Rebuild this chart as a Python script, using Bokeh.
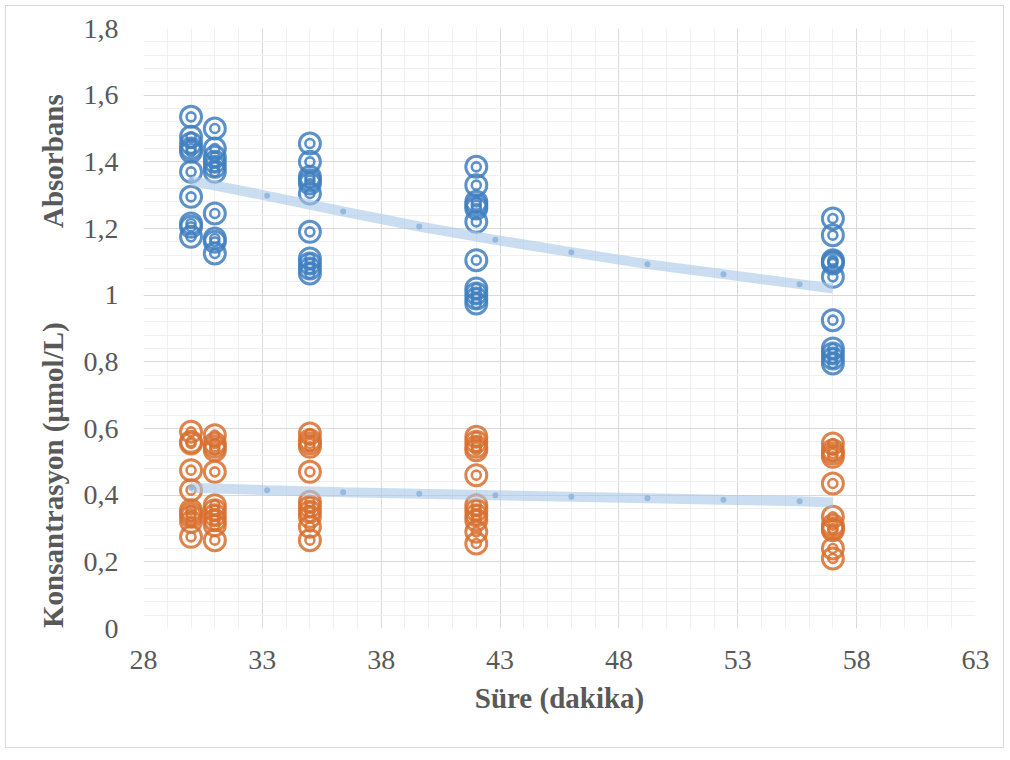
from bokeh.plotting import figure
from bokeh.models import Range1d, FixedTicker
from bokeh.embed import file_html
from bokeh.resources import INLINE

# ---------------- data ----------------
times = [30, 31, 35, 42, 57]

abs_30 = [1.535, 1.475, 1.455, 1.44, 1.43, 1.37, 1.295, 1.215, 1.205, 1.175]
abs_31 = [1.50, 1.44, 1.415, 1.40, 1.385, 1.37, 1.245, 1.17, 1.16, 1.125]
abs_35 = [1.455, 1.40, 1.355, 1.345, 1.335, 1.305, 1.19, 1.11, 1.095, 1.08, 1.065]
abs_42 = [1.385, 1.33, 1.28, 1.27, 1.26, 1.22, 1.105, 1.02, 1.005, 0.99, 0.975]
abs_57 = [1.23, 1.18, 1.105, 1.10, 1.095, 1.055, 0.925, 0.84, 0.825, 0.81, 0.795]

kon_30 = [0.59, 0.56, 0.555, 0.475, 0.415, 0.355, 0.345, 0.335, 0.32, 0.275]
kon_31 = [0.58, 0.555, 0.545, 0.535, 0.47, 0.37, 0.355, 0.34, 0.325, 0.31, 0.265]
kon_35 = [0.585, 0.565, 0.555, 0.545, 0.47, 0.38, 0.365, 0.35, 0.335, 0.305, 0.265]
kon_42 = [0.575, 0.56, 0.545, 0.535, 0.46, 0.37, 0.355, 0.34, 0.325, 0.29, 0.255]
kon_57 = [0.555, 0.535, 0.525, 0.515, 0.435, 0.335, 0.31, 0.30, 0.295, 0.24, 0.21]

trend_x = [30, 33.2, 36.4, 39.6, 42.8, 46.0, 49.2, 52.4, 55.6, 57]
abs_trend = [1.343, 1.298, 1.251, 1.206, 1.166, 1.129, 1.093, 1.063, 1.033, 1.020]
kon_trend = [0.422, 0.415, 0.409, 0.404, 0.400, 0.395, 0.391, 0.386, 0.382, 0.378]
trend_dot_x = trend_x[:-1]
abs_trend_dots = abs_trend[:-1]
kon_trend_dots = kon_trend[:-1]

x_ticks = [28, 33, 38, 43, 48, 53, 58, 63]
x_minor = list(range(28, 64))
y_ticks = [0.0, 0.2, 0.4, 0.6, 0.8, 1.0, 1.2, 1.4, 1.6, 1.8]
y_tick_labels = ["0", "0,2", "0,4", "0,6", "0,8", "1", "1,2", "1,4", "1,6", "1,8"]
y_minor = [round(i * 0.04, 2) for i in range(46)]

x_title = "Süre (dakika)"
y_title_low = "Konsantrasyon  (μmol/L)"
y_title_high = "Absorbans"

abs_groups = [abs_30, abs_31, abs_35, abs_42, abs_57]
kon_groups = [kon_30, kon_31, kon_35, kon_42, kon_57]

# ---------------- styling ----------------
BLUE = "#3f7fc0"
ORANGE = "#d8702f"
TREND = "#a9c8e8"
TREND_DOT = "#8db3dc"
TXT = "#595959"
FONT = "Liberation Serif"
NB = "\u00a0"

p = figure(width=999, height=743, output_backend="svg", toolbar_location=None,
           x_range=Range1d(28, 63), y_range=Range1d(0, 1.8),
           min_border_left=137, min_border_right=30, min_border_top=22,
           min_border_bottom=121)
p.styles = {"border": "1px solid #d9d9d9", "margin": "5px"}
p.outline_line_color = None
p.background_fill_color = "white"
p.border_fill_color = "white"

p.xaxis.ticker = FixedTicker(ticks=x_ticks, minor_ticks=x_minor)
p.yaxis.ticker = FixedTicker(ticks=y_ticks, minor_ticks=y_minor)
p.yaxis.major_label_overrides = {t: l for t, l in zip(y_ticks, y_tick_labels)}

for ax in (p.xaxis, p.yaxis):
    ax.axis_line_color = None
    ax.major_tick_line_color = None
    ax.minor_tick_line_color = None
    ax.major_label_text_font = FONT
    ax.major_label_text_font_size = "28px"
    ax.major_label_text_color = TXT
    ax.axis_label_text_font = FONT
    ax.axis_label_text_font_style = "bold"
    ax.axis_label_text_font_size = "29px"
    ax.axis_label_text_color = TXT
p.xaxis.major_label_standoff = 16
p.yaxis.major_label_standoff = 19

p.xaxis.axis_label = x_title
p.xaxis.axis_label_standoff = 10

# both y titles in one axis label, separated by non-breaking spaces
p.yaxis.axis_label = y_title_low + NB * 13 + y_title_high + NB * 8
p.yaxis.axis_label_standoff = 12

for g in (p.xgrid, p.ygrid):
    g.grid_line_color = "#d9d9d9"
    g.grid_line_width = 1
    g.minor_grid_line_color = "#f0f0f0"
    g.minor_grid_line_width = 1

# markers: double ring circles
for xv, ys in zip(times, abs_groups):
    xs = [xv] * len(ys)
    p.scatter(xs, ys, marker="circle", size=21, fill_color=None,
              line_color=BLUE, line_width=3, line_alpha=0.85)
    p.scatter(xs, ys, marker="circle", size=9, fill_color=None,
              line_color=BLUE, line_width=2.6, line_alpha=0.85)
for xv, ys in zip(times, kon_groups):
    xs = [xv] * len(ys)
    p.scatter(xs, ys, marker="circle", size=21, fill_color=None,
              line_color=ORANGE, line_width=3, line_alpha=0.85)
    p.scatter(xs, ys, marker="circle", size=9, fill_color=None,
              line_color=ORANGE, line_width=2.6, line_alpha=0.85)

# trend lines
for ty, dy in ((abs_trend, abs_trend_dots), (kon_trend, kon_trend_dots)):
    p.line(trend_x, ty, line_color=TREND, line_width=10, line_alpha=0.6,
           line_cap="butt")
    p.scatter(trend_dot_x, dy, marker="circle", size=6, fill_color=TREND_DOT,
              line_color=None, fill_alpha=0.85)

open("out.html", "w").write(file_html(p, INLINE))
